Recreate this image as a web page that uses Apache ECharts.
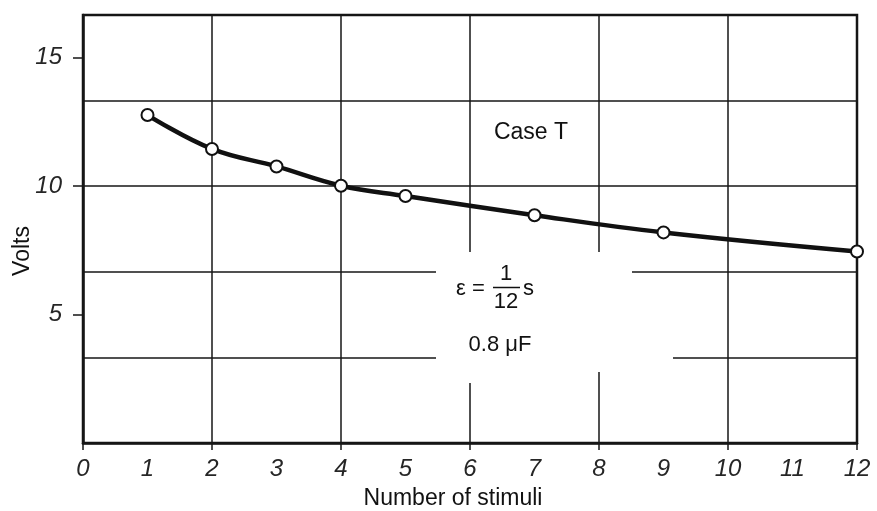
<!DOCTYPE html>
<html>
<head>
<meta charset="utf-8">
<script src="https://cdn.jsdelivr.net/npm/echarts@6/dist/echarts.min.js"></script>
<style>
html,body{margin:0;padding:0;background:#fff;}
#chart{width:877px;height:511px;}
</style>
</head>
<body>
<div id="chart"></div>
<script>
// Data
var stimuli = [1, 2, 3, 4, 5, 7, 9, 12];
var volts = [12.77, 11.45, 10.77, 10.02, 9.62, 8.87, 8.2, 7.46];
var xLabelValues = [0, 1, 2, 3, 4, 5, 6, 7, 8, 9, 10, 11, 12];
var xTickValues = [0, 2, 4, 6, 8, 10, 12];
var yLabelValues = [5, 10, 15];
var yMax = 50 / 3;
var yGridStep = 10 / 3;

var chart = echarts.init(document.getElementById('chart'), null, {renderer: 'canvas'});
var ink = '#161616';
var tickFont = {fontFamily: 'Liberation Sans', fontStyle: 'italic', fontSize: 24, color: '#262626'};
function T(text, x, y, align, size) {
  return {type: 'text', z: 5, silent: true, style: {
    text: text, x: x, y: y, align: align || 'center', verticalAlign: 'middle',
    fontFamily: 'Liberation Sans', fontSize: size || 22, fill: '#111'
  }};
}

chart.setOption({
  backgroundColor: '#ffffff',
  animation: false,
  grid: {left: 83, right: 20, top: 15, bottom: 68, show: true, borderColor: ink, borderWidth: 2.5, backgroundColor: 'transparent'},
  xAxis: {
    type: 'value', min: 0, max: 12, interval: 2,
    axisLine: {show: true, onZero: false, lineStyle: {color: ink, width: 2.5}},
    axisTick: {show: true, inside: false, length: 7, customValues: xTickValues, lineStyle: {color: ink, width: 1.5}},
    axisLabel: Object.assign({customValues: xLabelValues, margin: 14}, tickFont),
    splitLine: {show: true, lineStyle: {color: ink, width: 1.5}}
  },
  yAxis: [{
    type: 'value', min: 0, max: yMax, interval: yGridStep,
    axisLine: {show: true, onZero: false, lineStyle: {color: ink, width: 2.5}},
    axisTick: {show: false},
    axisLabel: {show: false},
    splitLine: {show: true, lineStyle: {color: ink, width: 1.5}}
  }, {
    type: 'value', position: 'left', min: 0, max: yMax, interval: 5,
    axisLine: {show: false},
    axisTick: {show: true, length: 10, customValues: yLabelValues, lineStyle: {color: ink, width: 1.5}},
    axisLabel: Object.assign({customValues: yLabelValues, margin: 21}, tickFont),
    splitLine: {show: false}
  }],
  graphic: [
    // erased patches of the grid behind the annotation text
    {type: 'rect', z: 1, silent: true, shape: {x: 436, y: 252, width: 196, height: 120}, style: {fill: '#fff'}},
    {type: 'rect', z: 1, silent: true, shape: {x: 460, y: 370, width: 20, height: 13}, style: {fill: '#fff'}},
    {type: 'rect', z: 1, silent: true, shape: {x: 630, y: 352, width: 43, height: 13}, style: {fill: '#fff'}},
    T('Case T', 531, 133, 'center', 23),
    T('ε =', 456, 289, 'left', 22),
    T('1', 506, 274, 'center', 22),
    {type: 'line', z: 5, silent: true, shape: {x1: 493, y1: 287.5, x2: 520, y2: 287.5}, style: {stroke: '#111', lineWidth: 1.5}},
    T('12', 506, 302, 'center', 22),
    T('s', 523, 289, 'left', 22),
    T('0.8 μF', 500, 345, 'center', 22),
    T('Number of stimuli', 453, 499, 'center', 23),
    {type: 'text', z: 5, silent: true, x: 23, y: 251, rotation: Math.PI / 2, style: {
      text: 'Volts', x: 0, y: 0, align: 'center', verticalAlign: 'middle',
      fontFamily: 'Liberation Sans', fontSize: 23, fill: '#111'}}
  ],
  series: [{
    type: 'line',
    data: stimuli.map(function (x, i) { return [x, volts[i]]; }),
    smooth: 0.4,
    symbol: 'circle', symbolSize: 12, showSymbol: true,
    lineStyle: {color: '#111', width: 4.5},
    itemStyle: {color: '#fff', borderColor: '#111', borderWidth: 2},
    z: 3
  }]
});
</script>
</body>
</html>
